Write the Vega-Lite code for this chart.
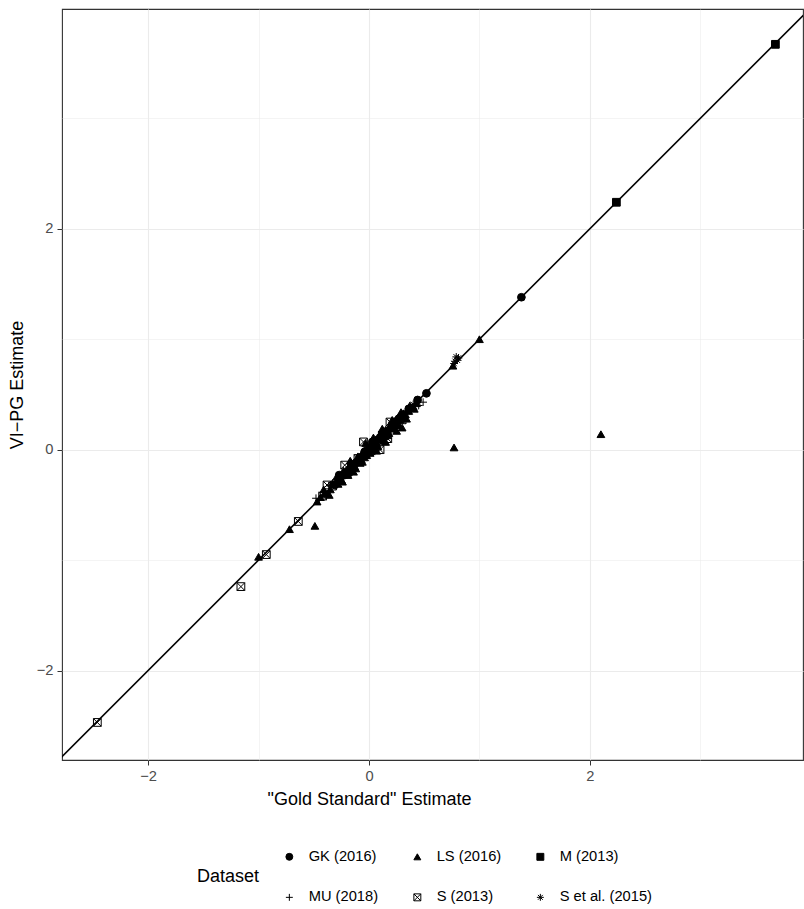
{
  "$schema": "https://vega.github.io/schema/vega-lite/v6.json",
  "width": 741,
  "height": 751,
  "autosize": {"type": "none"},
  "padding": {"left": 62, "top": 9, "right": 1, "bottom": 149},
  "background": "white",
  "config": {
    "view": {"stroke": "#333333", "strokeWidth": 1.1},
    "font": "Liberation Sans",
    "axis": {
      "labelFont": "Liberation Sans",
      "titleFont": "Liberation Sans",
      "labelFontSize": 14.7,
      "labelColor": "#4D4D4D",
      "titleFontSize": 18,
      "titleFontWeight": "normal",
      "titleColor": "black",
      "tickColor": "#333333",
      "tickSize": 5,
      "gridColor": "#EBEBEB",
      "domain": false
    },
    "legend": {
      "labelFont": "Liberation Sans",
      "titleFont": "Liberation Sans",
      "orient": "none",
      "legendX": 135,
      "legendY": 840,
      "direction": "horizontal",
      "columns": 3,
      "titleOrient": "left",
      "titleAnchor": "middle",
      "titleBaseline": "middle",
      "titleFontSize": 18,
      "titleFontWeight": "normal",
      "titleColor": "black",
      "titlePadding": 22,
      "labelFontSize": 14.7,
      "labelColor": "black",
      "labelOffset": 12,
      "symbolSize": 48,
      "symbolStrokeWidth": 1,
      "columnPadding": 31,
      "rowPadding": 25
    }
  },
  "datasets": {
    "pts": [
      {"dataset": "S (2013)", "gold": -2.46, "vipg": -2.47},
      {"dataset": "S (2013)", "gold": -1.16, "vipg": -1.24},
      {"dataset": "S (2013)", "gold": -0.93, "vipg": -0.95},
      {"dataset": "S (2013)", "gold": -0.64, "vipg": -0.65},
      {"dataset": "S (2013)", "gold": -0.42, "vipg": -0.42},
      {"dataset": "S (2013)", "gold": -0.38, "vipg": -0.32},
      {"dataset": "S (2013)", "gold": -0.33, "vipg": -0.33},
      {"dataset": "S (2013)", "gold": -0.22, "vipg": -0.14},
      {"dataset": "S (2013)", "gold": -0.15, "vipg": -0.16},
      {"dataset": "S (2013)", "gold": -0.10, "vipg": -0.08},
      {"dataset": "S (2013)", "gold": -0.05, "vipg": 0.07},
      {"dataset": "S (2013)", "gold": 0.02, "vipg": -0.01},
      {"dataset": "S (2013)", "gold": 0.05, "vipg": 0.04},
      {"dataset": "S (2013)", "gold": 0.10, "vipg": 0.00},
      {"dataset": "S (2013)", "gold": 0.17, "vipg": 0.10},
      {"dataset": "S (2013)", "gold": 0.19, "vipg": 0.25},
      {"dataset": "S (2013)", "gold": 0.25, "vipg": 0.24},
      {"dataset": "S (2013)", "gold": 0.30, "vipg": 0.27},
      {"dataset": "M (2013)", "gold": 3.68, "vipg": 3.67},
      {"dataset": "M (2013)", "gold": 2.24, "vipg": 2.24},
      {"dataset": "M (2013)", "gold": 0.05, "vipg": 0.05},
      {"dataset": "M (2013)", "gold": -0.02, "vipg": -0.02},
      {"dataset": "M (2013)", "gold": 0.12, "vipg": 0.13},
      {"dataset": "M (2013)", "gold": -0.16, "vipg": -0.15},
      {"dataset": "M (2013)", "gold": 0.24, "vipg": 0.23},
      {"dataset": "GK (2016)", "gold": 1.38, "vipg": 1.38},
      {"dataset": "GK (2016)", "gold": 0.52, "vipg": 0.51},
      {"dataset": "GK (2016)", "gold": 0.36, "vipg": 0.37},
      {"dataset": "GK (2016)", "gold": 0.10, "vipg": 0.11},
      {"dataset": "GK (2016)", "gold": -0.08, "vipg": -0.07},
      {"dataset": "GK (2016)", "gold": 0.21, "vipg": 0.20},
      {"dataset": "GK (2016)", "gold": -0.22, "vipg": -0.23},
      {"dataset": "GK (2016)", "gold": 0.00, "vipg": -0.01},
      {"dataset": "GK (2016)", "gold": 0.15, "vipg": 0.16},
      {"dataset": "GK (2016)", "gold": -0.12, "vipg": -0.12},
      {"dataset": "GK (2016)", "gold": 0.30, "vipg": 0.30},
      {"dataset": "GK (2016)", "gold": 0.44, "vipg": 0.45},
      {"dataset": "GK (2016)", "gold": -0.31, "vipg": -0.32},
      {"dataset": "GK (2016)", "gold": 0.06, "vipg": 0.08},
      {"dataset": "GK (2016)", "gold": -0.04, "vipg": -0.02},
      {"dataset": "GK (2016)", "gold": 0.27, "vipg": 0.28},
      {"dataset": "GK (2016)", "gold": -0.18, "vipg": -0.21},
      {"dataset": "GK (2016)", "gold": 0.03, "vipg": 0.07},
      {"dataset": "GK (2016)", "gold": -0.27, "vipg": -0.23},
      {"dataset": "LS (2016)", "gold": -1.00, "vipg": -0.97},
      {"dataset": "LS (2016)", "gold": -0.72, "vipg": -0.72},
      {"dataset": "LS (2016)", "gold": -0.49, "vipg": -0.69},
      {"dataset": "LS (2016)", "gold": 0.77, "vipg": 0.02},
      {"dataset": "LS (2016)", "gold": 2.10, "vipg": 0.14},
      {"dataset": "LS (2016)", "gold": 1.00, "vipg": 1.00},
      {"dataset": "LS (2016)", "gold": 0.76, "vipg": 0.76},
      {"dataset": "LS (2016)", "gold": -0.47, "vipg": -0.47},
      {"dataset": "LS (2016)", "gold": -0.44, "vipg": -0.43},
      {"dataset": "LS (2016)", "gold": -0.40, "vipg": -0.39},
      {"dataset": "LS (2016)", "gold": -0.38, "vipg": -0.40},
      {"dataset": "LS (2016)", "gold": -0.35, "vipg": -0.36},
      {"dataset": "LS (2016)", "gold": -0.33, "vipg": -0.30},
      {"dataset": "LS (2016)", "gold": -0.30, "vipg": -0.29},
      {"dataset": "LS (2016)", "gold": -0.28, "vipg": -0.31},
      {"dataset": "LS (2016)", "gold": -0.27, "vipg": -0.26},
      {"dataset": "LS (2016)", "gold": -0.25, "vipg": -0.27},
      {"dataset": "LS (2016)", "gold": -0.23, "vipg": -0.19},
      {"dataset": "LS (2016)", "gold": -0.22, "vipg": -0.21},
      {"dataset": "LS (2016)", "gold": -0.20, "vipg": -0.18},
      {"dataset": "LS (2016)", "gold": -0.19, "vipg": -0.23},
      {"dataset": "LS (2016)", "gold": -0.18, "vipg": -0.19},
      {"dataset": "LS (2016)", "gold": -0.16, "vipg": -0.12},
      {"dataset": "LS (2016)", "gold": -0.15, "vipg": -0.14},
      {"dataset": "LS (2016)", "gold": -0.13, "vipg": -0.15},
      {"dataset": "LS (2016)", "gold": -0.12, "vipg": -0.17},
      {"dataset": "LS (2016)", "gold": -0.11, "vipg": -0.10},
      {"dataset": "LS (2016)", "gold": -0.10, "vipg": -0.06},
      {"dataset": "LS (2016)", "gold": -0.09, "vipg": -0.08},
      {"dataset": "LS (2016)", "gold": -0.08, "vipg": -0.12},
      {"dataset": "LS (2016)", "gold": -0.07, "vipg": -0.09},
      {"dataset": "LS (2016)", "gold": -0.06, "vipg": -0.03},
      {"dataset": "LS (2016)", "gold": -0.05, "vipg": -0.04},
      {"dataset": "LS (2016)", "gold": -0.04, "vipg": -0.07},
      {"dataset": "LS (2016)", "gold": -0.03, "vipg": -0.02},
      {"dataset": "LS (2016)", "gold": -0.02, "vipg": -0.05},
      {"dataset": "LS (2016)", "gold": -0.01, "vipg": 0.03},
      {"dataset": "LS (2016)", "gold": 0.00, "vipg": 0.01},
      {"dataset": "LS (2016)", "gold": 0.01, "vipg": -0.03},
      {"dataset": "LS (2016)", "gold": 0.02, "vipg": 0.01},
      {"dataset": "LS (2016)", "gold": 0.03, "vipg": 0.05},
      {"dataset": "LS (2016)", "gold": 0.04, "vipg": 0.00},
      {"dataset": "LS (2016)", "gold": 0.05, "vipg": 0.04},
      {"dataset": "LS (2016)", "gold": 0.06, "vipg": 0.09},
      {"dataset": "LS (2016)", "gold": 0.07, "vipg": 0.06},
      {"dataset": "LS (2016)", "gold": 0.08, "vipg": 0.03},
      {"dataset": "LS (2016)", "gold": 0.09, "vipg": 0.10},
      {"dataset": "LS (2016)", "gold": 0.10, "vipg": 0.13},
      {"dataset": "LS (2016)", "gold": 0.11, "vipg": 0.09},
      {"dataset": "LS (2016)", "gold": 0.12, "vipg": 0.14},
      {"dataset": "LS (2016)", "gold": 0.13, "vipg": 0.08},
      {"dataset": "LS (2016)", "gold": 0.14, "vipg": 0.12},
      {"dataset": "LS (2016)", "gold": 0.15, "vipg": 0.18},
      {"dataset": "LS (2016)", "gold": 0.16, "vipg": 0.17},
      {"dataset": "LS (2016)", "gold": 0.17, "vipg": 0.13},
      {"dataset": "LS (2016)", "gold": 0.18, "vipg": 0.15},
      {"dataset": "LS (2016)", "gold": 0.19, "vipg": 0.22},
      {"dataset": "LS (2016)", "gold": 0.20, "vipg": 0.21},
      {"dataset": "LS (2016)", "gold": 0.22, "vipg": 0.19},
      {"dataset": "LS (2016)", "gold": 0.23, "vipg": 0.26},
      {"dataset": "LS (2016)", "gold": 0.24, "vipg": 0.25},
      {"dataset": "LS (2016)", "gold": 0.26, "vipg": 0.22},
      {"dataset": "LS (2016)", "gold": 0.27, "vipg": 0.30},
      {"dataset": "LS (2016)", "gold": 0.28, "vipg": 0.27},
      {"dataset": "LS (2016)", "gold": 0.30, "vipg": 0.20},
      {"dataset": "LS (2016)", "gold": 0.30, "vipg": 0.29},
      {"dataset": "LS (2016)", "gold": 0.31, "vipg": 0.33},
      {"dataset": "LS (2016)", "gold": 0.33, "vipg": 0.32},
      {"dataset": "LS (2016)", "gold": 0.35, "vipg": 0.37},
      {"dataset": "LS (2016)", "gold": 0.36, "vipg": 0.35},
      {"dataset": "LS (2016)", "gold": 0.38, "vipg": 0.38},
      {"dataset": "LS (2016)", "gold": 0.40, "vipg": 0.39},
      {"dataset": "LS (2016)", "gold": 0.43, "vipg": 0.42},
      {"dataset": "LS (2016)", "gold": -0.41, "vipg": -0.36},
      {"dataset": "LS (2016)", "gold": -0.36, "vipg": -0.41},
      {"dataset": "LS (2016)", "gold": -0.29, "vipg": -0.24},
      {"dataset": "LS (2016)", "gold": -0.24, "vipg": -0.29},
      {"dataset": "LS (2016)", "gold": -0.17, "vipg": -0.10},
      {"dataset": "LS (2016)", "gold": -0.14, "vipg": -0.20},
      {"dataset": "LS (2016)", "gold": -0.06, "vipg": -0.11},
      {"dataset": "LS (2016)", "gold": -0.03, "vipg": 0.06},
      {"dataset": "LS (2016)", "gold": 0.04, "vipg": 0.11},
      {"dataset": "LS (2016)", "gold": 0.07, "vipg": -0.01},
      {"dataset": "LS (2016)", "gold": 0.12, "vipg": 0.19},
      {"dataset": "LS (2016)", "gold": 0.15, "vipg": 0.07},
      {"dataset": "LS (2016)", "gold": 0.21, "vipg": 0.27},
      {"dataset": "LS (2016)", "gold": 0.25, "vipg": 0.17},
      {"dataset": "LS (2016)", "gold": 0.29, "vipg": 0.34},
      {"dataset": "LS (2016)", "gold": 0.34, "vipg": 0.28},
      {"dataset": "LS (2016)", "gold": 0.37, "vipg": 0.40},
      {"dataset": "LS (2016)", "gold": 0.41, "vipg": 0.37},
      {"dataset": "MU (2018)", "gold": -0.48, "vipg": -0.44},
      {"dataset": "MU (2018)", "gold": -0.45, "vipg": -0.46},
      {"dataset": "MU (2018)", "gold": 0.49, "vipg": 0.43},
      {"dataset": "MU (2018)", "gold": 0.45, "vipg": 0.40},
      {"dataset": "MU (2018)", "gold": 0.20, "vipg": 0.17},
      {"dataset": "MU (2018)", "gold": 0.26, "vipg": 0.22},
      {"dataset": "MU (2018)", "gold": -0.30, "vipg": -0.30},
      {"dataset": "MU (2018)", "gold": -0.18, "vipg": -0.16},
      {"dataset": "MU (2018)", "gold": -0.05, "vipg": -0.05},
      {"dataset": "MU (2018)", "gold": 0.08, "vipg": 0.09},
      {"dataset": "MU (2018)", "gold": 0.38, "vipg": 0.36},
      {"dataset": "MU (2018)", "gold": 0.32, "vipg": 0.30},
      {"dataset": "MU (2018)", "gold": -0.35, "vipg": -0.33},
      {"dataset": "MU (2018)", "gold": 0.04, "vipg": 0.02},
      {"dataset": "MU (2018)", "gold": -0.10, "vipg": -0.11},
      {"dataset": "MU (2018)", "gold": 0.14, "vipg": 0.13},
      {"dataset": "MU (2018)", "gold": -0.24, "vipg": -0.22},
      {"dataset": "MU (2018)", "gold": 0.02, "vipg": 0.04},
      {"dataset": "S et al. (2015)", "gold": 0.79, "vipg": 0.84},
      {"dataset": "S et al. (2015)", "gold": 0.80, "vipg": 0.81},
      {"dataset": "S et al. (2015)", "gold": 0.78, "vipg": 0.80},
      {"dataset": "S et al. (2015)", "gold": 0.81, "vipg": 0.83},
      {"dataset": "S et al. (2015)", "gold": 0.77, "vipg": 0.78},
      {"dataset": "S et al. (2015)", "gold": 0.44, "vipg": 0.43},
      {"dataset": "S et al. (2015)", "gold": 0.40, "vipg": 0.41},
      {"dataset": "S et al. (2015)", "gold": 0.25, "vipg": 0.26},
      {"dataset": "S et al. (2015)", "gold": 0.20, "vipg": 0.21},
      {"dataset": "S et al. (2015)", "gold": 0.10, "vipg": 0.10},
      {"dataset": "S et al. (2015)", "gold": -0.02, "vipg": 0.00},
      {"dataset": "S et al. (2015)", "gold": -0.25, "vipg": -0.25}
    ],
    "diag": [
      {"gold": -3, "vipg": -3},
      {"gold": 4.5, "vipg": 4.5}
    ]
  },
  "layer": [
    {
      "data": {"name": "diag"},
      "mark": {"type": "line", "color": "black", "strokeWidth": 1.6, "clip": true},
      "encoding": {
        "x": {"field": "gold", "type": "quantitative"},
        "y": {"field": "vipg", "type": "quantitative"}
      }
    },
    {
      "data": {"name": "pts"},
      "mark": {"type": "point", "filled": true, "strokeWidth": 1, "opacity": 1, "clip": true},
      "encoding": {
        "x": {
          "field": "gold", "type": "quantitative",
          "scale": {"domain": [-2.78, 3.93], "nice": false, "zero": false},
          "axis": {
            "title": "\"Gold Standard\" Estimate",
            "values": [-3, -2, -1, 0, 1, 2, 3],
            "labelExpr": "datum.value % 2 === 0 ? replace(format(datum.value, 'd'), '-', '\u2212') : ''",
            "gridWidth": {"condition": {"test": "datum.value % 2 === 0", "value": 1.1}, "value": 0.55},
            "tickOpacity": {"condition": {"test": "datum.value % 2 === 0", "value": 1}, "value": 0},
            "labelPadding": 3,
            "titlePadding": 8,
            "titleX": 307,
            "titleAlign": "center"
          }
        },
        "y": {
          "field": "vipg", "type": "quantitative",
          "scale": {"domain": [-2.81, 3.99], "nice": false, "zero": false},
          "axis": {
            "title": "VI\u2212PG Estimate",
            "values": [-3, -2, -1, 0, 1, 2, 3],
            "labelExpr": "datum.value % 2 === 0 ? replace(format(datum.value, 'd'), '-', '\u2212') : ''",
            "gridWidth": {"condition": {"test": "datum.value % 2 === 0", "value": 1.1}, "value": 0.55},
            "tickOpacity": {"condition": {"test": "datum.value % 2 === 0", "value": 1}, "value": 0},
            "labelPadding": 4,
            "titlePadding": 10
          }
        },
        "shape": {
          "field": "dataset", "type": "nominal",
          "scale": {
            "domain": ["GK (2016)", "LS (2016)", "M (2013)", "MU (2018)", "S (2013)", "S et al. (2015)"],
            "range": [
              "circle",
              "triangle-up",
              "square",
              "M-1,0L1,0M0,-1L0,1",
              "M-1,-1L1,-1L1,1L-1,1ZM-1,-1L1,1M-1,1L1,-1",
              "M-1,0L1,0M0,-1L0,1M-0.7,-0.7L0.7,0.7M-0.7,0.7L0.7,-0.7"
            ]
          },
          "legend": {"title": "Dataset"}
        },
        "fill": {
          "field": "dataset", "type": "nominal",
          "scale": {
            "domain": ["GK (2016)", "LS (2016)", "M (2013)", "MU (2018)", "S (2013)", "S et al. (2015)"],
            "range": ["black", "black", "black", "black", "transparent", "black"]
          },
          "legend": {"title": "Dataset"}
        },
        "stroke": {
          "field": "dataset", "type": "nominal",
          "scale": {
            "domain": ["GK (2016)", "LS (2016)", "M (2013)", "MU (2018)", "S (2013)", "S et al. (2015)"],
            "range": ["black", "black", "black", "black", "black", "black"]
          },
          "legend": {"title": "Dataset"}
        },
        "size": {"value": 60}
      }
    }
  ]
}
